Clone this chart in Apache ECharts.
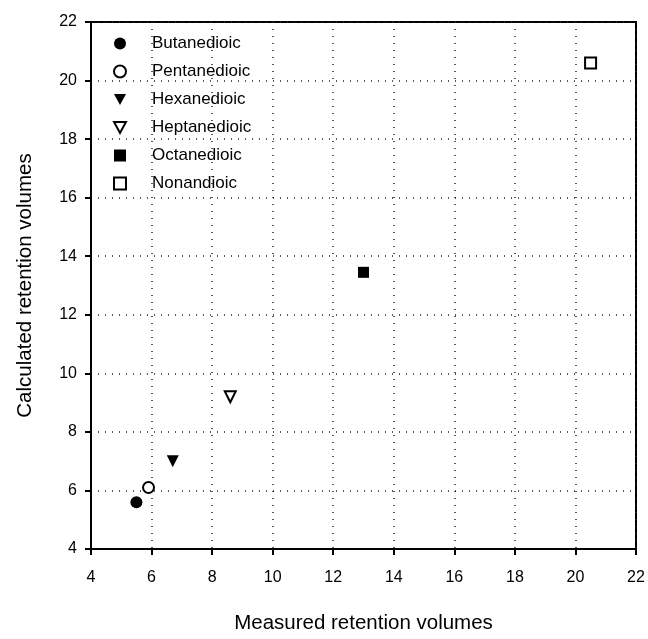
<!DOCTYPE html>
<html>
<head>
<meta charset="utf-8">
<script src="https://cdn.jsdelivr.net/npm/echarts@6/dist/echarts.min.js"></script>
<style>
  html, body { margin: 0; padding: 0; background: #fff; }
  #myChart { width: 648px; height: 639px; }
</style>
</head>
<body>
<div id="myChart"></div>
<script>
// acids and their [measured, calculated] retention volumes
const names = ['Butanedioic', 'Pentanedioic', 'Hexanedioic', 'Heptanedioic', 'Octanedioic', 'Nonandioic'];
const measured = [5.5, 5.9, 6.7, 8.6, 13.0, 20.5];
const calculated = [5.6, 6.1, 7.0, 9.2, 13.45, 20.6];
const symbols = ['circle', 'circle', 'triangle', 'triangle', 'rect', 'rect'];
const filled = [true, false, true, false, true, false];

const font = 'Liberation Sans, Arial, sans-serif';
const downTri = 'path://M0,0 L12,0 L6,11 Z';

let series = [];
let legendData = [];
names.forEach((val, i) => {
    let style = {
        color: filled[i] ? '#000' : '#fff',
        borderColor: '#000',
        borderWidth: filled[i] ? 0 : 2,
        opacity: 1
    };
    series.push({
        name: val,
        type: 'scatter',
        symbol: symbols[i],
        symbolSize: symbols[i] === 'rect' ? 11 : (filled[i] ? 12 : 11),
        symbolRotate: symbols[i] === 'triangle' ? 180 : 0,
        itemStyle: style,
        emphasis: { disabled: true },
        data: [[measured[i], calculated[i]]]
    });
    legendData.push({
        name: val,
        icon: symbols[i] === 'triangle' ? downTri : symbols[i],
        itemStyle: style
    });
});

let myChart = echarts.init(document.getElementById('myChart'));
let option = {
    backgroundColor: '#fff',
    animation: false,
    grid: {
        left: 91, right: 12, top: 22, bottom: 80,
        show: true,
        borderColor: '#000',
        borderWidth: 2,
        backgroundColor: 'transparent'
    },
    legend: {
        data: legendData,
        orient: 'vertical',
        left: 108,
        top: 30,
        itemWidth: 12,
        itemHeight: 12,
        itemGap: 11,
        textStyle: { fontFamily: font, fontSize: 17, color: '#000', padding: [0, 0, 0, 21] }
    },
    xAxis: {
        type: 'value',
        min: 4, max: 22, interval: 2,
        name: 'Measured retention volumes',
        nameLocation: 'middle',
        nameGap: 64,
        nameTextStyle: { fontFamily: font, fontSize: 20.5, color: '#000' },
        axisLine: { lineStyle: { color: '#000', width: 2 } },
        axisTick: { show: true, length: 6, lineStyle: { color: '#000', width: 2 } },
        axisLabel: { fontFamily: font, fontSize: 16, color: '#000', margin: 21 },
        splitLine: { show: true, lineStyle: { type: [1, 6], color: '#222', width: 1.5 } }
    },
    yAxis: {
        type: 'value',
        min: 4, max: 22, interval: 2,
        name: 'Calculated retention volumes',
        nameLocation: 'middle',
        nameGap: 55,
        nameTextStyle: { fontFamily: font, fontSize: 20.5, color: '#000' },
        axisLine: { lineStyle: { color: '#000', width: 2 } },
        axisTick: { show: true, length: 6, lineStyle: { color: '#000', width: 2 } },
        axisLabel: { fontFamily: font, fontSize: 16, color: '#000', margin: 14 },
        splitLine: { show: true, lineStyle: { type: [1, 6], color: '#222', width: 1.5 } }
    },
    series: series
};
myChart.setOption(option);
</script>
</body>
</html>
